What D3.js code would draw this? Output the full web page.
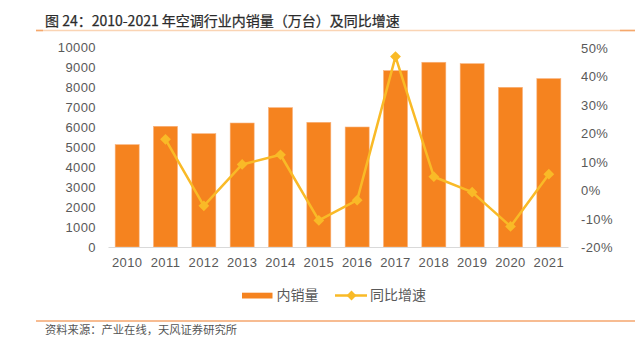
<!DOCTYPE html>
<html>
<head>
<meta charset="utf-8">
<script src="https://cdn.jsdelivr.net/npm/d3@7/dist/d3.min.js"></script>
<style>
  html, body { margin: 0; padding: 0; background: #fff; }
  svg { display: block; }
  .tick text { font-family: "Liberation Sans", Arial, sans-serif; }
</style>
</head>
<body>
<script>
// 2010–2021 domestic air-conditioner sales (10k units) and YoY growth (%)
const years = ["2010","2011","2012","2013","2014","2015","2016","2017","2018","2019","2020","2021"];
const sales = [5130, 6050, 5680, 6215, 6985, 6250, 6015, 8840, 9260, 9190, 8005, 8440];
const growth = [null, 18.0, -5.3, 9.2, 12.6, -10.4, -3.3, 47.0, 4.9, -0.5, -12.5, 5.8];
const leftTicks = [0, 1000, 2000, 3000, 4000, 5000, 6000, 7000, 8000, 9000, 10000];
const rightTicks = [-20, -10, 0, 10, 20, 30, 40, 50];

const W = 643, H = 350;
const barColor = "#F5831F";
const lineColor = "#F9BA27";
const textColor = "#595959";

const svg = d3.select("body").append("svg").attr("width", W).attr("height", H);

// Title and rules
svg.append("text")
  .attr("x", 45).attr("y", 22)
  .attr("dominant-baseline", "middle")
  .style("font-family", "'Noto Sans CJK SC', sans-serif")
  .style("font-size", "14px").style("font-weight", 400)
  .attr("fill", "#2b2b2b")
  .attr("stroke", "#2b2b2b").attr("stroke-width", 0.25)
  .text("图 24：2010-2021 年空调行业内销量（万台）及同比增速");

svg.append("line").attr("x1", 36).attr("x2", 635).attr("y1", 30.5).attr("y2", 30.5)
  .attr("stroke", "#FAD4B4").attr("stroke-width", 1.5);
svg.append("line").attr("x1", 36).attr("x2", 43).attr("y1", 30.5).attr("y2", 30.5)
  .attr("stroke", "#F5A86C").attr("stroke-width", 1.5);
svg.append("line").attr("x1", 620).attr("x2", 635).attr("y1", 30.5).attr("y2", 30.5)
  .attr("stroke", "#F5A86C").attr("stroke-width", 1.5);

svg.append("line").attr("x1", 36).attr("x2", 635).attr("y1", 321).attr("y2", 321)
  .attr("stroke", "#F4A66E").attr("stroke-width", 1.5);
svg.append("text")
  .attr("x", 45).attr("y", 331)
  .attr("dominant-baseline", "middle")
  .style("font-family", "'Noto Sans CJK SC', sans-serif")
  .style("font-size", "11.3px")
  .attr("fill", "#555")
  .text("资料来源：产业在线，天风证券研究所");

// Scales
const x = d3.scaleBand().domain(years).range([108, 568])
  .paddingInner(0.374).paddingOuter(0.187);
const yL = d3.scaleLinear().domain([0, 10000]).range([247, 47.5]);
const yR = d3.scaleLinear().domain([-20, 50]).range([247.8, 48]);

// Axes
const axisFont = g => g.selectAll("text")
  .style("font-size", "13px").style("letter-spacing", "0.4px").attr("fill", textColor);

svg.append("g").attr("transform", "translate(96,0)")
  .call(d3.axisLeft(yL).tickValues(leftTicks).tickSize(0).tickPadding(0).tickFormat(d3.format("d")))
  .call(g => g.select(".domain").remove())
  .call(axisFont);

svg.append("g").attr("transform", "translate(581,0)")
  .call(d3.axisRight(yR).tickValues(rightTicks).tickSize(0).tickPadding(0).tickFormat(d => d + "%"))
  .call(g => g.select(".domain").remove())
  .call(axisFont);

// Bars
svg.append("g").selectAll("rect").data(sales).join("rect")
  .attr("x", (d, i) => x(years[i]))
  .attr("width", x.bandwidth())
  .attr("y", d => yL(d))
  .attr("height", d => yL(0) - yL(d))
  .attr("fill", barColor)
  .attr("stroke", "#F8B27C").attr("stroke-width", 0.6);

svg.append("g").attr("transform", `translate(0,${yL(0)})`)
  .call(d3.axisBottom(x).tickSize(0).tickPadding(11))
  .call(g => g.select(".domain").attr("stroke", "#D9D9D9").attr("stroke-width", 1.2))
  .call(axisFont);

// Growth line with diamond markers
const pts = growth.map((g, i) => ({ year: years[i], g })).filter(p => p.g !== null);
const cx = p => x(p.year) + x.bandwidth() / 2;

svg.append("path").datum(pts)
  .attr("d", d3.line().x(cx).y(p => yR(p.g)))
  .attr("fill", "none").attr("stroke", lineColor)
  .attr("stroke-width", 2.5).attr("stroke-linejoin", "round");

svg.append("g").selectAll("rect").data(pts).join("rect")
  .attr("x", -3.8).attr("y", -3.8).attr("width", 7.6).attr("height", 7.6)
  .attr("transform", p => `translate(${cx(p)},${yR(p.g)}) rotate(45)`)
  .attr("fill", lineColor);

// Legend
const leg = svg.append("g")
  .style("font-family", "'Noto Sans CJK SC', sans-serif")
  .style("font-size", "14px");
leg.append("rect").attr("x", 242).attr("y", 292.7).attr("width", 30.5).attr("height", 5.8).attr("fill", barColor);
leg.append("text").attr("x", 276.5).attr("y", 296).attr("dominant-baseline", "middle")
  .attr("fill", textColor).text("内销量");
leg.append("line").attr("x1", 335).attr("x2", 367).attr("y1", 295.5).attr("y2", 295.5)
  .attr("stroke", lineColor).attr("stroke-width", 2.5);
leg.append("rect").attr("x", -3.5).attr("y", -3.5).attr("width", 7).attr("height", 7)
  .attr("transform", "translate(351.5,295.5) rotate(45)").attr("fill", lineColor);
leg.append("text").attr("x", 370).attr("y", 296).attr("dominant-baseline", "middle")
  .attr("fill", textColor).text("同比增速");
</script>
</body>
</html>
